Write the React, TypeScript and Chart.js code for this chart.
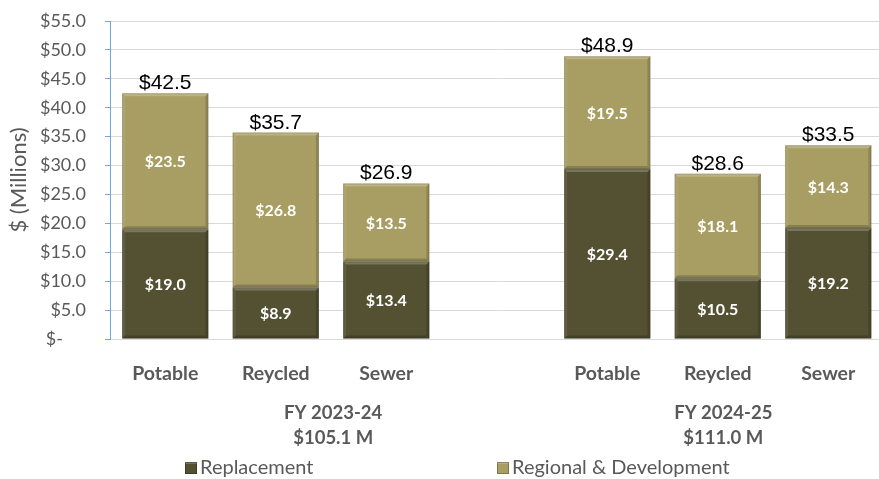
import React, { useEffect, useRef } from 'react';
import { Chart, registerables } from 'chart.js';

Chart.register(...registerables);

const categories = ['Potable', 'Reycled', 'Sewer', '', 'Potable', 'Reycled', 'Sewer'];
const replacement = [19.0, 8.9, 13.4, null, 29.4, 10.5, 19.2];
const regional = [23.5, 26.8, 13.5, null, 19.5, 18.1, 14.3];
const groupYears = ['FY 2023-24', 'FY 2024-25'];
const groupTotals = ['$105.1 M', '$111.0 M'];
const seriesNames = ['Replacement', 'Regional & Development'];
const yTicks = [0, 5, 10, 15, 20, 25, 30, 35, 40, 45, 50, 55];

const DARK = '#545032';
const LIGHT = '#A89D63';
const GRAY = '#595959';

const bevelPlugin = {
  id: 'bevel',
  afterDatasetsDraw(chart: any) {
    const ctx = chart.ctx;
    ctx.save();
    chart.data.datasets.forEach((ds: any, di: number) => {
      const meta = chart.getDatasetMeta(di);
      meta.data.forEach((el: any, i: number) => {
        if (ds.data[i] == null) return;
        const { x, y, base, width } = el.getProps(['x', 'y', 'base', 'width'], true);
        const l = x - width / 2;
        const r = x + width / 2;
        const t = Math.min(y, base);
        const b = Math.max(y, base);
        const e = 3;
        ctx.fillStyle = 'rgba(255,255,255,0.22)';
        ctx.beginPath();
        ctx.moveTo(l, t);
        ctx.lineTo(r, t);
        ctx.lineTo(r - e, t + e);
        ctx.lineTo(l + e, t + e);
        ctx.closePath();
        ctx.fill();
        ctx.fillStyle = 'rgba(255,255,255,0.08)';
        ctx.beginPath();
        ctx.moveTo(l, t);
        ctx.lineTo(l + e, t + e);
        ctx.lineTo(l + e, b - e);
        ctx.lineTo(l, b);
        ctx.closePath();
        ctx.fill();
        ctx.fillStyle = 'rgba(0,0,0,0.14)';
        ctx.beginPath();
        ctx.moveTo(r, t);
        ctx.lineTo(r - e, t + e);
        ctx.lineTo(r - e, b - e);
        ctx.lineTo(r, b);
        ctx.closePath();
        ctx.fill();
        ctx.fillStyle = 'rgba(0,0,0,0.18)';
        ctx.beginPath();
        ctx.moveTo(l, b);
        ctx.lineTo(l + e, b - e);
        ctx.lineTo(r - e, b - e);
        ctx.lineTo(r, b);
        ctx.closePath();
        ctx.fill();
        ctx.strokeStyle = 'rgba(0,0,0,0.12)';
        ctx.lineWidth = 1;
        ctx.strokeRect(l + 0.5, t + 0.5, width - 1, b - t - 1);
      });
    });
    ctx.restore();
  },
};

const labelsPlugin = {
  id: 'labels',
  afterDraw(chart: any) {
    const ctx = chart.ctx;
    ctx.save();
    ctx.textAlign = 'center';
    ctx.textBaseline = 'middle';
    ctx.fillStyle = '#FFFFFF';
    ctx.font = 'bold 16px Lato';
    chart.data.datasets.forEach((ds: any, di: number) => {
      const meta = chart.getDatasetMeta(di);
      meta.data.forEach((el: any, i: number) => {
        const v = ds.data[i];
        if (v == null) return;
        const { x, y, base } = el.getProps(['x', 'y', 'base'], true);
        ctx.fillText('$' + v.toFixed(1), x, (y + base) / 2 + 1);
      });
    });
    const topMeta = chart.getDatasetMeta(1);
    ctx.fillStyle = '#000000';
    ctx.font = '21px "Liberation Sans", Arial';
    ctx.textBaseline = 'alphabetic';
    topMeta.data.forEach((el: any, i: number) => {
      if (replacement[i] == null) return;
      const total = (replacement[i] as number) + (regional[i] as number);
      ctx.fillText('$' + total.toFixed(1), el.x, el.y - 4);
    });
    const xs = chart.scales.x;
    const groupPos = [1.52, 5.05];
    ctx.fillStyle = GRAY;
    ctx.font = 'bold 18.5px Lato';
    ctx.textBaseline = 'middle';
    groupYears.forEach((g, gi) => {
      const px = xs.getPixelForValue(groupPos[gi]);
      ctx.fillText(g, px, 413);
      ctx.fillText(groupTotals[gi], px, 438);
    });
    const legendX = [185, 497];
    const colors = [DARK, LIGHT];
    ctx.font = '20px Lato';
    ctx.textAlign = 'left';
    seriesNames.forEach((n, i) => {
      const lx = legendX[i];
      ctx.fillStyle = colors[i];
      ctx.fillRect(lx, 462, 12, 12);
      ctx.fillStyle = 'rgba(255,255,255,0.2)';
      ctx.fillRect(lx, 462, 12, 2);
      ctx.strokeStyle = 'rgba(0,0,0,0.25)';
      ctx.lineWidth = 1;
      ctx.strokeRect(lx + 0.5, 462.5, 11, 11);
      ctx.fillStyle = GRAY;
      ctx.fillText(n, lx + 15, 468);
    });
    ctx.restore();
  },
};

export default function App() {
  const ref = useRef<HTMLCanvasElement>(null);
  useEffect(() => {
    if (!ref.current) return;
    const chart = new Chart(ref.current, {
      type: 'bar',
      data: {
        labels: categories,
        datasets: [
          {
            label: seriesNames[0],
            data: replacement,
            backgroundColor: DARK,
            borderWidth: 0,
            barPercentage: 0.78,
            categoryPercentage: 1,
          },
          {
            label: seriesNames[1],
            data: regional,
            backgroundColor: LIGHT,
            borderWidth: 0,
            barPercentage: 0.78,
            categoryPercentage: 1,
          },
        ],
      },
      options: {
        responsive: false,
        animation: false,
        devicePixelRatio: 1,
        layout: { padding: { left: 0, right: 6.5, top: 21, bottom: 0 } },
        plugins: {
          legend: { display: false },
          tooltip: { enabled: false },
        },
        scales: {
          x: {
            stacked: true,
            grid: { display: false },
            border: { display: false },
            ticks: {
              color: GRAY,
              font: { family: 'Lato', size: 19.5, weight: 'bold' },
              padding: 15,
              maxRotation: 0,
              autoSkip: false,
            },
            afterFit(scale: any) {
              scale.height = 140;
              scale.paddingLeft = 0;
              scale.paddingRight = 0;
            },
          },
          y: {
            stacked: true,
            min: 0,
            max: 55,
            afterBuildTicks(scale: any) {
              scale.ticks = yTicks.map((v) => ({ value: v }));
            },
            ticks: {
              color: GRAY,
              font: { family: 'Lato', size: 18 },
              padding: 19,
              callback: (v: any) => (Number(v) === 0 ? '$-     ' : '$' + Number(v).toFixed(1)),
            },
            grid: {
              color: '#D9D9D9',
              tickColor: '#6FA8DC',
              tickLength: 5,
              lineWidth: 1,
            },
            border: { display: true, color: '#6FA8DC', width: 1 },
            title: {
              display: true,
              text: '$ (Millions)',
              color: GRAY,
              font: { family: 'Lato', size: 22 },
              padding: { top: 6, bottom: 0 },
            },
            afterFit(scale: any) {
              scale.width = 110;
              scale.paddingTop = 0;
              scale.paddingBottom = 0;
            },
          },
        },
      },
      plugins: [bevelPlugin, labelsPlugin],
    } as any);
    return () => chart.destroy();
  }, []);
  return (
    <div style={{ position: 'fixed', left: 0, top: 0, width: 879, height: 479, overflow: 'hidden', background: '#FFFFFF' }}>
      <canvas ref={ref} width={890} height={479} style={{ display: 'block' }} />
    </div>
  );
}
